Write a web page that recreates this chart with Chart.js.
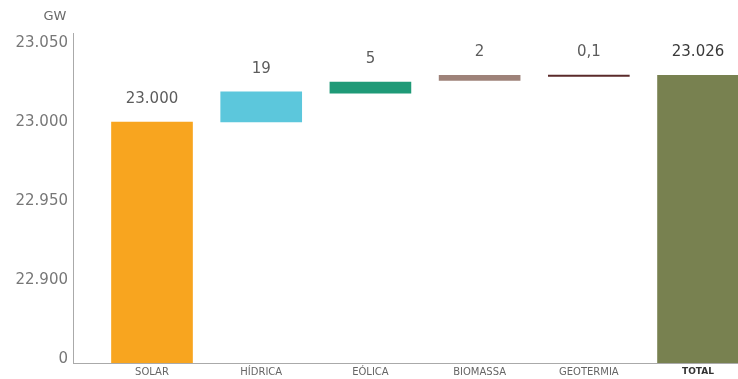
<!DOCTYPE html>
<html>
<head>
<meta charset="utf-8">
<script src="https://cdn.jsdelivr.net/npm/chart.js@4.4.1/dist/chart.umd.min.js"></script>
<style>
  body { margin: 0; background: #fff; }
  canvas { display: block; }
</style>
</head>
<body>
<canvas id="capacityChart" width="738" height="379"></canvas>
<script>
// Data (GW) - floating bars of the waterfall
var categories = ["SOLAR", "HÍDRICA", "EÓLICA", "BIOMASSA", "GEOTERMIA", "TOTAL"];
var barFrom = [22847.5, 23000, 23018.2, 23026.3, 23028.9, 22847.5];
var barTo = [23000, 23019, 23025.3, 23029.5, 23029.7, 23029.5];
var valueLabels = ["23.000", "19", "5", "2", "0,1", "23.026"];
var yTicks = [22850, 22900, 22950, 23000, 23050];

// Styles
var barColors = ["#F8A51F", "#5CC7DC", "#1F9A77", "#9E8279", "#5A2A2A", "#788150"];
var yMin = 22847.5;
var yMax = 23056.3;

// Value labels + unit text
var labelsPlugin = {
  id: "labelsPlugin",
  afterDatasetsDraw: function (chart) {
    var ctx = chart.ctx;
    var meta = chart.getDatasetMeta(0);
    ctx.save();
    ctx.textAlign = "center";
    ctx.textBaseline = "middle";
    meta.data.forEach(function (bar, i) {
      var top = Math.min(bar.y, bar.base);
      ctx.font = "15px 'DejaVu Sans'";
      ctx.fillStyle = i === 5 ? "#3a3a3a" : "#5c5c5c";
      ctx.fillText(valueLabels[i], bar.x, top - 23);
    });
    ctx.font = "13px 'DejaVu Sans'";
    ctx.fillStyle = "#6a6a6a";
    ctx.fillText("GW", 55, 17);
    ctx.restore();
  },
};

var ctx = document.getElementById("capacityChart").getContext("2d");

var capacityChart = new Chart(ctx, {
  type: "bar",
  data: {
    datasets: [
      {
        data: categories.map(function (c, i) {
          return { x: i, y: [barFrom[i], barTo[i]] };
        }),
        backgroundColor: barColors,
        borderWidth: 0,
        barThickness: 81,
      },
    ],
  },
  options: {
    responsive: false,
    devicePixelRatio: 1,
    animation: false,
    layout: { padding: { top: 33, right: 0, bottom: 0, left: 0 } },
    plugins: {
      legend: { display: false },
      tooltip: { enabled: false },
    },
    scales: {
      x: {
        type: "linear",
        min: -0.7234,
        max: 5.366,
        offset: false,
        grid: { display: false, drawTicks: false, offset: false },
        border: { display: true, color: "#aaa", width: 1 },
        afterBuildTicks: function (scale) {
          scale.ticks = categories.map(function (c, i) {
            return { value: i };
          });
        },
        afterFit: function (scale) {
          scale.height = 16;
        },
        ticks: {
          autoSkip: false,
          maxRotation: 0,
          padding: 3,
          callback: function (value) {
            return categories[value];
          },
          color: function (c) {
            return c.index === 5 ? "#333" : "#666";
          },
          font: function (c) {
            return c.index === 5
              ? { family: "'DejaVu Sans'", size: 9, weight: "bold" }
              : { family: "'DejaVu Sans'", size: 10 };
          },
        },
      },
      y: {
        min: yMin,
        max: yMax,
        grid: { display: false, drawTicks: false },
        border: { display: true, color: "#aaa", width: 1 },
        afterBuildTicks: function (scale) {
          scale.ticks = yTicks.map(function (v) {
            return { value: v };
          });
        },
        afterFit: function (scale) {
          scale.width = 73;
        },
        ticks: {
          padding: 5,
          color: "#777",
          font: { family: "'DejaVu Sans'", size: 15 },
          callback: function (value) {
            return value === 22850 ? "0" : (value / 1000).toFixed(3);
          },
        },
      },
    },
  },
  plugins: [labelsPlugin],
});
</script>
</body>
</html>
